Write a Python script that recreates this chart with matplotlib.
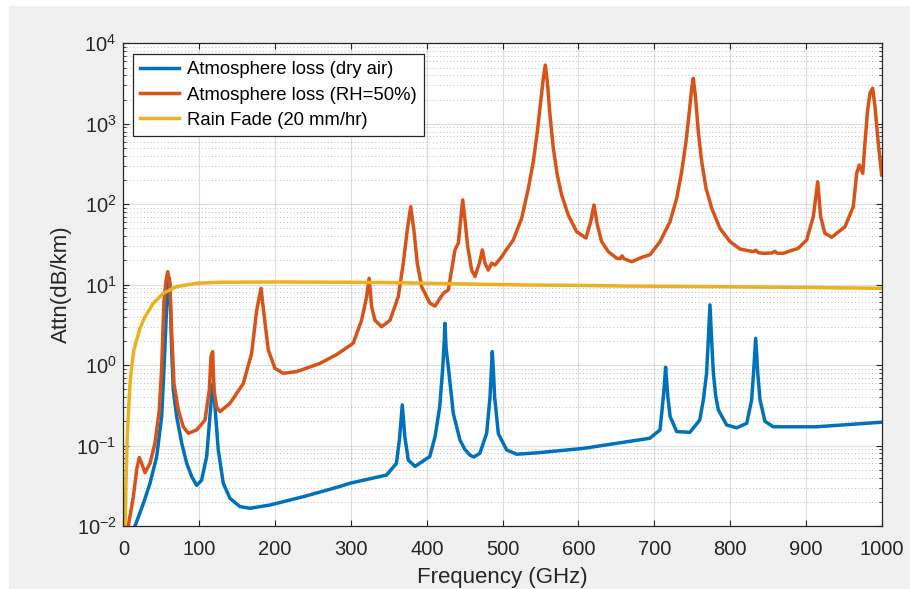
import matplotlib
matplotlib.use("Agg")
import matplotlib.pyplot as plt
from matplotlib.patches import Rectangle

plt.rcParams['font.family'] = ['Liberation Sans', 'DejaVu Sans']
plt.rcParams['mathtext.fontset'] = 'custom'
plt.rcParams['mathtext.rm'] = 'Liberation Sans'
plt.rcParams['mathtext.default'] = 'regular'

# Atmospheric attenuation, dry air
f_dry = [15.2, 26.2, 35, 43.8, 50.4, 54, 57, 59, 60.5, 62, 63.5, 65.7, 70.1, 76.8,
         83.4, 90, 96.5, 103, 109.7, 114, 117, 118.5, 120.7, 125, 131.6, 140.5,
         153.7, 166.8, 193, 237, 285.5, 298.7, 347, 360, 364, 367.7, 371, 375.6,
         384.5, 404, 411, 417, 421, 422.5, 424, 425.5, 428.4, 435, 443.8, 450, 457,
         462, 470, 479, 483.4, 485, 486.4, 488, 489.5, 494.4, 505.4, 518.6, 545,
         606, 694, 707.6, 712, 713.5, 715, 716.5, 718, 721, 729.6, 747, 760, 765,
         769, 771, 773.5, 776, 778, 781, 784.5, 795.5, 808.8, 822, 828.5, 831,
         833.8, 836.5, 839.5, 846, 857, 914, 1000]
att_dry = [0.010, 0.019, 0.034, 0.073, 0.23, 1.2, 5.5, 12, 12, 5, 1.6, 0.49, 0.23, 0.107,
           0.060, 0.041, 0.032, 0.037, 0.073, 0.23, 0.50, 0.60, 0.30, 0.088, 0.034, 0.022,
           0.0174, 0.0166, 0.0182, 0.0231, 0.031, 0.034, 0.043, 0.060, 0.12, 0.32, 0.13, 0.066,
           0.055, 0.073, 0.13, 0.30, 0.9, 1.6, 3.3, 1.6, 0.95, 0.25, 0.117, 0.09, 0.076,
           0.072, 0.080, 0.142, 0.40, 0.8, 1.47, 0.8, 0.40, 0.14, 0.088, 0.078, 0.081,
           0.092, 0.123, 0.156, 0.4, 0.6, 0.94, 0.6, 0.4, 0.229, 0.149, 0.146, 0.207, 0.38,
           0.79, 1.8, 5.6, 1.8, 0.79, 0.42, 0.277, 0.18, 0.166, 0.189, 0.37, 0.8,
           2.15, 0.8, 0.37, 0.20, 0.171, 0.171, 0.195]

# Atmospheric attenuation, relative humidity 50 %
f_wet = [6.3, 13, 17.4, 20.9, 24, 28.4, 35, 41.5, 47.3, 50.4, 53.4, 56, 58.3, 61.3,
         63.6, 66.6, 72.3, 78.9, 85.5, 96.5, 107.5, 113.2, 115.4, 117.6, 119.4, 122.9,
         127.3, 140.5, 158, 169, 175.7, 181.4, 185.7, 191, 199.8, 210.8, 228.4, 259.2,
         281, 303, 314, 320.7, 324, 327.3, 331.7, 340.5, 351.5, 362.4, 369, 374.3, 378.8,
         383, 387.5, 393.3, 404, 410.8, 421.8, 428.4, 432.8, 437.2, 441.6, 444.7, 447.4,
         450.4, 454, 459.2, 463.6, 469.3, 473.3, 476.8, 481.2, 485.6, 490, 498.8, 503.2,
         514.1, 525.2, 534, 540.5, 545.8, 550.2, 553.7, 556.3, 559, 562.5, 566.9, 572.1,
         577.9, 586.7, 597.7, 610, 616.2, 620.5, 625, 630.7, 639.4, 650.5, 655, 657.5,
         660, 670.3, 685.6, 694.4, 707.6, 720.8, 729.6, 736.2, 741.9, 746.3, 749.4,
         751.5, 754.2, 758.1, 762.6, 768.3, 775.8, 786.7, 800, 813.1, 830.7,
         834, 837, 843.8, 856, 859, 862, 870, 890, 901, 909.8, 915.6, 919.5, 925, 934,
         951.6, 962.5, 967, 970.5, 975, 977.9, 981.4, 984.6, 988.1, 991.2, 995.5, 1000]
att_wet = [0.010, 0.023, 0.050, 0.071, 0.060, 0.046, 0.060, 0.107, 0.277, 0.95, 6.4, 11, 14.5, 10.4,
           2.5, 0.59, 0.277, 0.171, 0.142, 0.156, 0.207, 0.49, 1.27, 1.47, 0.49, 0.30,
           0.264, 0.335, 0.59, 1.40, 4.8, 9.0, 4.0, 1.54, 0.91, 0.79, 0.83, 1.05,
           1.35, 1.87, 3.6, 7.1, 12.0, 5.3, 3.6, 3.0, 3.6, 7.1, 18.4, 47.8, 93,
           47.8, 18.4, 9.4, 5.9, 5.4, 7.8, 8.6, 15.2, 27, 32.7, 63.6, 113,
           63.6, 29.6, 15.2, 12.6, 18.4, 27, 18.4, 15.2, 18.4, 17.5, 22.2, 25.7,
           35.9, 67, 158, 337, 796, 1880, 3670, 5370, 3330, 1285, 495, 231,
           130, 73, 45.5, 38, 60.7, 97.7, 55, 34.2, 25.7, 21.3, 21.0, 22.8,
           21, 19.3, 22.2, 23.5, 34.2, 60.7, 118, 254, 598, 1413, 2760,
           3670, 2275, 796, 337, 158, 89, 50, 34.2, 27.7, 25.7,
           26.8, 25.0, 24.5, 24.8, 26.0, 24.6, 24.5, 28.3, 35.9, 70, 190, 70, 43.5, 38.8,
           52.5, 93, 242, 307, 242, 571, 1480, 2400, 2760, 1630, 571, 231]

# Rain attenuation at 20 mm/hr
f_rain = [2, 3.3, 5, 6.3, 8.6, 10.8, 13.8, 17.4, 21.8, 28.4, 39.3, 52.5, 70, 96.5,
          127, 200, 300, 350, 400, 450, 500, 530, 600, 661, 750, 800, 912, 1000]
att_rain = [0.010, 0.034, 0.13, 0.23, 0.59, 0.95, 1.55, 2.05, 2.86, 4.0, 5.86, 7.8, 9.44, 10.4,
            10.7, 10.8, 10.7, 10.6, 10.4, 10.2, 10.0, 9.9, 9.8, 9.6, 9.5, 9.4, 9.2, 9.0]

labels = ['Atmosphere loss (dry air)', 'Atmosphere loss (RH=50%)', 'Rain Fade (20 mm/hr)']
colors = ['#0072BD', '#D95319', '#EDB120']

fig = plt.figure(figsize=(9.1, 5.89), dpi=100)
fig.patch.set_facecolor('white')
fig.patches.append(Rectangle((9 / 910, 0), 1, (589 - 6) / 589, transform=fig.transFigure,
                             facecolor='#f0f0f0', edgecolor='none', zorder=-10))

ax = fig.add_axes([0.1357, 0.107, 0.8332, 0.8195])
ax.plot(f_dry, att_dry, color=colors[0], lw=2.5, label=labels[0])
ax.plot(f_wet, att_wet, color=colors[1], lw=2.5, label=labels[1])
ax.plot(f_rain, att_rain, color=colors[2], lw=2.5, label=labels[2])

ax.set_yscale('log')
ax.set_xlim(0, 1000)
ax.set_ylim(1e-2, 1e4)
ax.set_xticks(range(0, 1001, 100))

ax.grid(which='major', color='#262626', alpha=0.15, lw=0.8)
ax.grid(which='minor', axis='y', color='#262626', alpha=0.3, lw=0.7, linestyle=(0, (1, 2.5)))
ax.set_axisbelow(True)

ax.tick_params(which='both', direction='in', top=True, right=True, colors='#262626',
               labelsize=14.5, labelcolor='#262626')
ax.tick_params(which='major', length=4.5, width=0.8)
ax.tick_params(which='minor', length=2.5, width=0.6)
ax.tick_params(axis='y', pad=5)
ax.tick_params(axis='x', pad=10)
for s in ax.spines.values():
    s.set_color('#262626')
    s.set_linewidth(0.9)

ax.set_xlabel('Frequency (GHz)', fontsize=16, color='#262626', labelpad=6)
ax.set_ylabel('Attn(dB/km)', fontsize=16, color='#262626', labelpad=3)

leg = ax.legend(loc='upper left', bbox_to_anchor=(0.0125, 0.978), borderaxespad=0,
                fontsize=13.3, fancybox=False, framealpha=1, edgecolor='#262626',
                handlelength=2.1, handletextpad=0.4, borderpad=0.4, labelspacing=0.45)
leg.get_frame().set_linewidth(0.9)

fig.savefig('out.png', dpi=100)
